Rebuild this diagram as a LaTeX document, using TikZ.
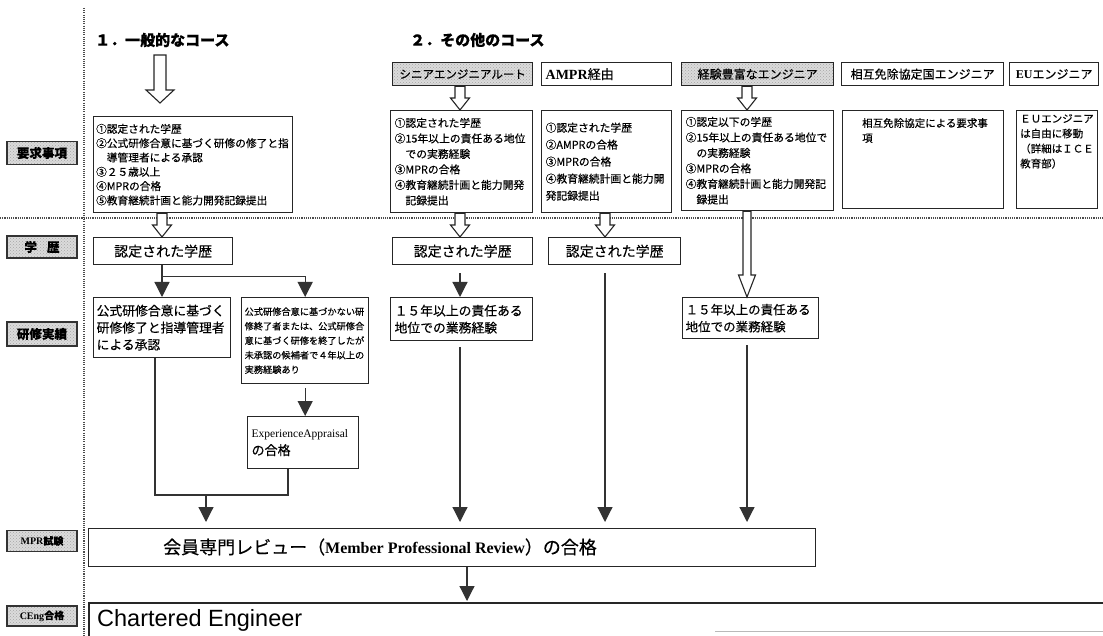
\documentclass[tikz,border=0pt]{standalone}
\usepackage{fontspec}
\setmainfont{Liberation Serif}
\newfontfamily\cjk{Noto Sans CJK JP}[FakeBold=0.35]
\newfontfamily\hsans{Liberation Sans}
\usetikzlibrary{arrows.meta,patterns,calc}
\newcommand\fsz[2]{\fontsize{#1}{#2}\selectfont}

\begin{document}
\begin{tikzpicture}[x=1pt,y=-1pt,
  frame/.style={draw=black!85, line width=1.3pt, anchor=north west, inner xsep=4pt, inner ysep=2pt, align=left},
  box/.style={frame, fill=white},
  hatchbox/.style={frame, preaction={fill=gray!28}, pattern=crosshatch dots, pattern color=gray!70},
  lbl/.style={draw=black!80, line width=1.3pt, preaction={fill=gray!28}, pattern=crosshatch dots,
    pattern color=gray!70, minimum width=70pt, inner sep=0pt, font=\cjk\bfseries\fsz{12.5}{14}},
  txt/.style={anchor=north west, inner sep=0pt, align=left},
  dotline/.style={draw=black!70, line width=1.4pt, dash pattern=on 1.1pt off 1.1pt},
  conn/.style={draw=black!80, line width=1.2pt},
  farrow/.style={conn, -{Triangle[width=15pt,length=15pt]}},
  blockarrow/.style n args={3}{to path={let \p1=(\tikztostart), \p2=(\tikztotarget) in
    (\x1-#1,\y1) -- (\x1+#1,\y1) -- (\x1+#1,\y2+#3) -- (\x1+#2,\y2+#3) -- (\x1,\y2)
    -- (\x1-#2,\y2+#3) -- (\x1-#1,\y2+#3) -- cycle}},
  bigarrow/.style={draw=black!85, line width=1.1pt, fill=white, blockarrow={6pt}{14pt}{13pt}},
  openarrow/.style={draw=black!85, line width=1.1pt, fill=white, blockarrow={5pt}{9.5pt}{12pt}},
  longarrow/.style={draw=black!85, line width=1.1pt, fill=white, blockarrow={4pt}{8.5pt}{22pt}},
]
\useasboundingbox (0,0) rectangle (1103,636);

% section separators
\draw[dotline] (84,8) -- (84,636);
\draw[dotline] (0,218) -- (1103,218);

% row labels
\node[lbl, minimum height=23pt] (L1) at (42,153) {要求事項};
\node[lbl, minimum height=22pt] (L2) at (42,247) {学\hspace{0.8em}歴};
\node[lbl, minimum height=24pt] (L3) at (42,334) {研修実績};
\node[lbl, minimum height=21pt, font=\fsz{10}{11}] (L4) at (42,541) {\textbf{MPR}{\cjk\bfseries 試験}};
\node[lbl, minimum height=20pt, font=\fsz{10}{11}] (L5) at (42,616) {\textbf{CEng}{\cjk\bfseries 合格}};

% course titles
\node[txt, anchor=west, font=\cjk\bfseries\fsz{15}{18}] (t1) at (95,40) {１．一般的なコース};
\node[txt, anchor=west, font=\cjk\bfseries\fsz{15}{18}] (t2) at (410,40) {２．その他のコース};

% routes of the other courses
\node[hatchbox, minimum width=140pt, minimum height=23pt, font=\cjk\fsz{11.5}{13}] (sen) at (392,62) {シニアエンジニアルート};
\node[box, minimum width=130pt, minimum height=23pt, text width=122pt, font=\fsz{14}{15}] (ampr) at (541,62) {\textbf{AMPR}{\cjk\fsz{13}{15}経由}};
\node[hatchbox, minimum width=152pt, minimum height=23pt, font=\cjk\fsz{12}{13}] (exp) at (681,62) {経験豊富なエンジニア};
\node[box, minimum width=162pt, minimum height=23pt, font=\cjk\fsz{12}{13}] (mra) at (841,62) {相互免除協定国エンジニア};
\node[box, minimum width=89pt, minimum height=23pt, font=\fsz{12}{13}] (eu) at (1009,62) {\textbf{EU}{\cjk エンジニア}};

% requirements
\node[box, minimum width=199pt, minimum height=96pt, text width=194pt, inner xsep=2.5pt, font=\cjk\fsz{10.7}{14.3}] (g1req) at (93,116)
  {①認定された学歴\\②公式研修合意に基づく研修の修了と指\\\hspace*{1em}導管理者による承認\\③２５歳以上\\④MPRの合格\\⑤教育継続計画と能力開発記録提出};
\node[box, minimum width=142pt, minimum height=102pt, text width=134pt, font=\cjk\fsz{10.8}{15.5}] (senreq) at (390,110)
  {①認定された学歴\\②15年以上の責任ある地位\\\hspace*{1em}での実務経験\\③MPRの合格\\④教育継続計画と能力開発\\\hspace*{1em}記録提出};
\node[box, minimum width=130pt, minimum height=102pt, text width=122pt, font=\cjk\fsz{10.8}{17}] (amprreq) at (541,110)
  {①認定された学歴\\②AMPRの合格\\③MPRの合格\\④教育継続計画と能力開\\発記録提出};
\node[box, minimum width=152pt, minimum height=100pt, text width=144pt, font=\cjk\fsz{10.8}{15.5}] (expreq) at (681,110)
  {①認定以下の学歴\\②15年以上の責任ある地位で\\\hspace*{1em}の実務経験\\③MPRの合格\\④教育継続計画と能力開発記\\\hspace*{1em}録提出};
\node[box, minimum width=161pt, minimum height=98pt] (mrareq) at (842,110) {};
\node[txt, font=\cjk\fsz{10.5}{15}] (mrareq-t) at (862,118) {相互免除協定による要求事\\項};
\node[box, minimum width=81pt, minimum height=98pt] (eureq) at (1016,110) {};
\node[txt, font=\cjk\fsz{10.5}{15}] (eureq-t) at (1020,114) {ＥＵエンジニア\\は自由に移動\\（詳細はＩＣＥ\\教育部）};

% academic background
\node[box, align=center, minimum width=139pt, minimum height=27pt, font=\cjk\fsz{14}{16}] (g1edu) at (93,237) {認定された学歴};
\node[box, align=center, minimum width=140pt, minimum height=27pt, font=\cjk\fsz{14}{16}] (senedu) at (392,237) {認定された学歴};
\node[box, align=center, minimum width=132pt, minimum height=27pt, font=\cjk\fsz{14}{16}] (ampredu) at (548,237) {認定された学歴};

% training record
\node[box, minimum width=137pt, minimum height=60pt, text width=131pt, inner xsep=3pt, font=\cjk\fsz{12.8}{17}] (g1train) at (93,297)
  {公式研修合意に基づく\\研修修了と指導管理者\\による承認};
\node[box, minimum width=127pt, minimum height=86pt, text width=121pt, inner xsep=3pt, font=\cjk\fsz{9.2}{14.5}] (g2train) at (241,297)
  {公式研修合意に基づかない研\\修終了者または、公式研修合\\意に基づく研修を終了したが\\未承認の候補者で４年以上の\\実務経験あり};
\node[box, minimum width=142pt, minimum height=43pt, text width=134pt, font=\cjk\fsz{12.8}{17}] (senexp) at (390,297)
  {１５年以上の責任ある\\地位での業務経験};
\node[box, minimum width=136pt, minimum height=41pt, text width=130pt, inner xsep=3pt, font=\cjk\fsz{12.5}{17}] (expexp) at (682,297)
  {１５年以上の責任ある\\地位での業務経験};
\node[box, minimum width=111pt, minimum height=52pt, text width=103pt, font=\fsz{12}{18}] (ea) at (247,416)
  {{\fsz{11.5}{18}ExperienceAppraisal}\\{\cjk\fsz{13}{18}の合格}};

% member professional review
\node[box, minimum width=727pt, minimum height=38pt] (mpr) at (88,528) {};
\node[txt, anchor=west] (mpr-t) at (163,547)
  {{\cjk\fsz{18}{20}会員専門レビュー（}{\bfseries\fsz{16}{20}Member Professional Review}{\cjk\fsz{18}{20}）の合格}};

% chartered engineer
\node[box, minimum width=1040pt, minimum height=60pt, line width=1.6pt] (ceng) at (88,602) {};
\node[txt, anchor=west, font=\hsans\fsz{23.5}{26}] (ceng-t) at (97,620) {Chartered Engineer};
\draw[gray!55, line width=1pt] (715,631) -- (1103,631);

% column positions of the connectors
\coordinate (bigA) at (160,55);
\coordinate (bigB) at (160,103);
\coordinate (cG) at (162,0);
\coordinate (cS) at (460,0);
\coordinate (cA) at (605,0);
\coordinate (cE) at (747,0);
\coordinate (cL) at (155,0);
\coordinate (cR) at (288,0);
\coordinate (cM) at (206,0);
\coordinate (cC) at (467,0);
\coordinate (yMerge) at (0,495);

% hollow block arrows
\draw[bigarrow] (bigA) to (bigB);
\draw[openarrow] (cG |- g1req.south) to (cG |- g1edu.north);
\draw[openarrow] (cS |- sen.south) to (cS |- senreq.north);
\draw[openarrow] (cS |- senreq.south) to (cS |- senedu.north);
\draw[openarrow] (cA |- amprreq.south) to (cA |- ampredu.north);
\draw[openarrow] (cE |- exp.south) to (cE |- expreq.north);
\draw[longarrow] (cE |- expreq.south) to (cE |- expexp.north);

% solid arrows
\draw[farrow] (cG |- g1edu.south) -- (cG |- g1train.north);
\draw[farrow] (cG |- g1edu.south) -- ++(0,11) -| (g2train.north);
\draw[farrow, shorten <=4pt] (g2train.south) -- (g2train.south |- ea.north);
\draw[conn] (cL |- g1train.south) |- (cR |- yMerge) -- (cR |- ea.south);
\draw[farrow, shorten >=6pt] (cM |- yMerge) -- (cM |- mpr.north);
\draw[farrow, shorten <=8pt] (cS |- senedu.south) -- (cS |- senexp.north);
\draw[farrow, shorten <=6pt, shorten >=6pt] (cS |- senexp.south) -- (cS |- mpr.north);
\draw[farrow, shorten <=8pt, shorten >=6pt] (cA |- ampredu.south) -- (cA |- mpr.north);
\draw[farrow, shorten <=6pt, shorten >=6pt] (cE |- expexp.south) -- (cE |- mpr.north);
\draw[farrow, shorten >=1pt] (cC |- mpr.south) -- (cC |- ceng.north);
\end{tikzpicture}
\end{document}
